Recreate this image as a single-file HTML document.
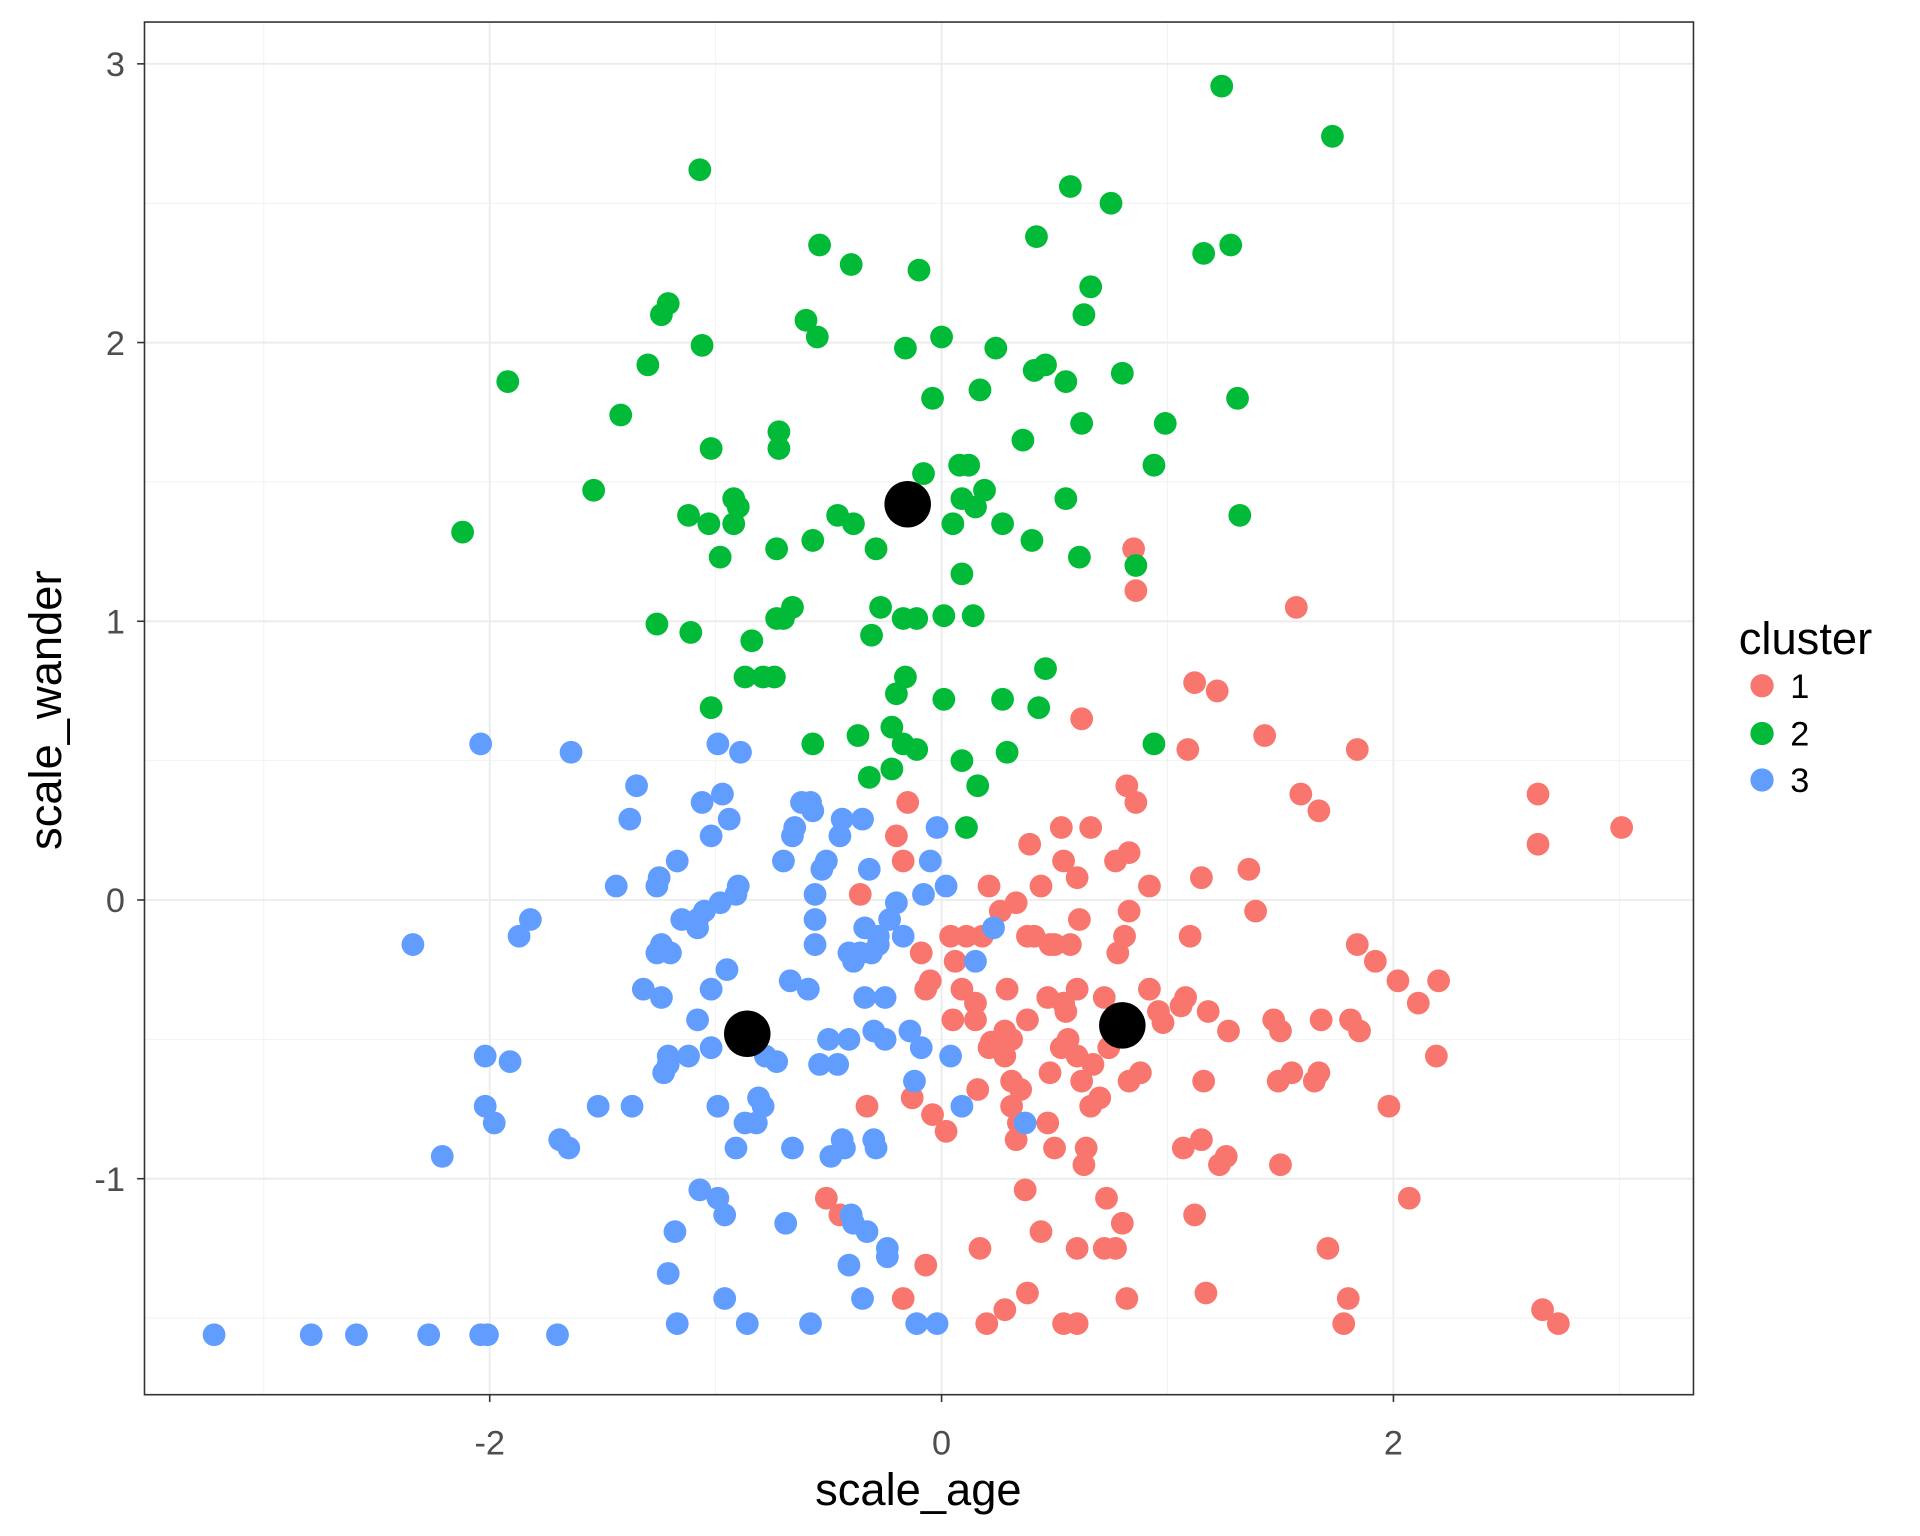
<!DOCTYPE html>
<html><head><meta charset="utf-8"><style>html,body{margin:0;padding:0;background:#fff}svg{display:block}text{font-family:"Liberation Sans",Arial,sans-serif}</style></head>
<body>
<svg id="chart" width="1920" height="1536" viewBox="0 0 1568 1254.4" xmlns="http://www.w3.org/2000/svg">
<rect x="0" y="0" width="1568" height="1254.4" fill="#fff"/>
<g id="grid"></g>
<g id="points"></g>
<rect x="118" y="18" width="1265" height="1121" fill="none" stroke="#333" stroke-width="1.3"/>
<g id="axes"></g>
<text x="750" y="1229" font-size="37" text-anchor="middle" fill="#000">scale_age</text>
<text transform="translate(50,580) rotate(-90)" font-size="37" text-anchor="middle" fill="#000">scale_wander</text>
<g>
<text x="1420" y="534" font-size="37" fill="#000">cluster</text>
<circle cx="1439" cy="560" r="9.5" fill="#F8766D"/>
<text x="1462" y="570" font-size="28" fill="#000">1</text>
<circle cx="1439" cy="599" r="9.5" fill="#00BA38"/>
<text x="1462" y="609" font-size="28" fill="#000">2</text>
<circle cx="1439" cy="637" r="9.5" fill="#619CFF"/>
<text x="1462" y="647" font-size="28" fill="#000">3</text>
</g>
</svg>
<script>
const xTicks=[-2,0,2];
const xMinor=[-3,-1,1,3];
const yTicks=[-1,0,1,2,3];
const yMinor=[-1.5,-0.5,0.5,1.5,2.5];
const xTickLabels=["-2","0","2"];
const yTickLabels=["-1","0","1","2","3"];
const c1x=[0.85,0.86,1.57,1.12,1.22,0.62,1.43,1.09,1.84,0.82,0.86,1.59,1.67,2.64,2.64,3.01,-0.15,0.66,0.53,-0.20,-0.17,0.39,0.83,0.77,0.54,1.36,1.15,0.60,0.44,0.21,0.92,-0.36,0.33,0.26,1.39,0.61,0.83,0.38,0.41,0.48,0.57,0.50,0.04,0.11,0.18,0.81,1.10,0.78,-0.09,0.06,1.84,1.92,2.02,2.20,-0.05,-0.07,0.29,0.09,0.60,0.72,0.92,1.08,0.15,0.47,0.54,1.06,1.18,0.96,0.98,2.11,0.05,0.15,0.38,0.55,1.47,1.50,1.68,1.81,1.85,1.27,0.28,0.22,0.31,0.56,0.76,0.53,0.28,0.21,0.60,0.67,0.74,2.19,0.48,0.62,0.83,0.88,0.31,0.35,1.16,1.49,1.55,1.67,1.65,0.16,0.31,0.66,0.70,-0.33,1.98,-0.13,-0.04,0.02,0.34,0.47,0.33,0.50,0.64,0.63,1.07,1.15,1.26,1.23,1.50,0.37,0.73,2.07,-0.51,-0.45,1.12,0.80,0.44,0.60,0.72,0.77,0.17,1.71,-0.07,0.38,-0.17,0.82,1.17,1.80,0.28,0.20,0.54,0.60,2.66,2.73,1.78];
const c1y=[1.26,1.11,1.05,0.78,0.75,0.65,0.59,0.54,0.54,0.41,0.35,0.38,0.32,0.38,0.20,0.26,0.35,0.26,0.26,0.23,0.14,0.20,0.17,0.14,0.14,0.11,0.08,0.08,0.05,0.05,0.05,0.02,-0.01,-0.04,-0.04,-0.07,-0.04,-0.13,-0.13,-0.16,-0.16,-0.16,-0.13,-0.13,-0.13,-0.13,-0.13,-0.19,-0.19,-0.22,-0.16,-0.22,-0.29,-0.29,-0.29,-0.32,-0.32,-0.32,-0.32,-0.35,-0.32,-0.35,-0.37,-0.35,-0.37,-0.38,-0.40,-0.40,-0.44,-0.37,-0.43,-0.43,-0.43,-0.40,-0.43,-0.47,-0.43,-0.43,-0.47,-0.47,-0.47,-0.51,-0.50,-0.50,-0.47,-0.53,-0.56,-0.53,-0.56,-0.59,-0.53,-0.56,-0.62,-0.65,-0.65,-0.62,-0.65,-0.68,-0.65,-0.65,-0.62,-0.62,-0.65,-0.68,-0.74,-0.74,-0.71,-0.74,-0.74,-0.71,-0.77,-0.83,-0.80,-0.80,-0.86,-0.89,-0.89,-0.95,-0.89,-0.86,-0.92,-0.95,-0.95,-1.04,-1.07,-1.07,-1.07,-1.13,-1.13,-1.16,-1.19,-1.25,-1.25,-1.25,-1.25,-1.25,-1.31,-1.41,-1.43,-1.43,-1.41,-1.43,-1.47,-1.52,-1.52,-1.52,-1.47,-1.52,-1.52];
const c2x=[1.24,1.73,-1.07,0.57,0.75,-0.54,0.42,-0.40,-0.10,1.28,1.16,0.66,0.63,-1.21,-1.24,-0.60,-0.55,-1.06,-0.16,0.00,0.24,-1.30,0.46,0.41,0.80,0.55,-1.92,0.17,-0.04,1.31,-1.42,0.36,0.62,0.99,-0.72,-0.72,-1.02,0.94,-1.54,0.08,0.12,-0.08,0.19,0.09,0.15,0.55,-0.92,-0.90,-1.12,-0.46,-0.39,1.32,-1.03,-0.92,-2.12,0.05,0.27,-0.57,0.40,-0.73,-0.29,-0.98,0.61,0.86,0.09,-0.27,-0.66,-0.73,-0.70,-0.17,-0.11,0.01,0.14,-1.26,-1.11,-0.31,-0.84,0.46,-0.16,-0.87,-0.79,-0.74,-0.20,0.01,0.27,-1.02,0.43,-0.22,-0.37,-0.57,0.94,-0.17,-0.11,0.09,0.29,-0.22,-0.32,0.16,0.11];
const c2y=[2.92,2.74,2.62,2.56,2.50,2.35,2.38,2.28,2.26,2.35,2.32,2.20,2.10,2.14,2.10,2.08,2.02,1.99,1.98,2.02,1.98,1.92,1.92,1.90,1.89,1.86,1.86,1.83,1.80,1.80,1.74,1.65,1.71,1.71,1.68,1.62,1.62,1.56,1.47,1.56,1.56,1.53,1.47,1.44,1.41,1.44,1.44,1.41,1.38,1.38,1.35,1.38,1.35,1.35,1.32,1.35,1.35,1.29,1.29,1.26,1.26,1.23,1.23,1.20,1.17,1.05,1.05,1.01,1.01,1.01,1.01,1.02,1.02,0.99,0.96,0.95,0.93,0.83,0.80,0.80,0.80,0.80,0.74,0.72,0.72,0.69,0.69,0.62,0.59,0.56,0.56,0.56,0.54,0.50,0.53,0.47,0.44,0.41,0.26];
const c3x=[-2.04,-1.64,-0.99,-0.89,-1.35,-1.38,-0.97,-1.06,-0.94,-0.62,-0.58,-0.57,-0.44,-0.35,-0.65,-0.66,-1.02,-0.45,-0.70,-0.51,-0.53,-0.32,-1.17,-0.02,-0.05,-1.44,-1.26,-1.25,-0.90,-0.91,-0.56,0.02,-0.08,-0.98,-1.05,-1.08,-1.15,-1.08,-1.82,-1.87,-0.56,-0.56,-0.20,-0.23,-0.34,-0.28,-0.17,0.23,-2.34,-1.24,-1.20,-1.26,-0.41,-0.36,-0.31,0.15,-0.39,-0.28,-0.95,-1.02,-1.32,-1.24,-0.67,-0.59,-0.34,-0.25,-1.08,-0.86,-1.02,-0.78,-0.73,-2.02,-1.91,-1.21,-1.21,-1.12,-1.23,-0.30,-0.25,-0.14,-0.09,0.04,-0.41,-0.50,-0.54,-0.46,-0.12,0.09,-0.81,-0.79,-0.87,-0.82,-0.99,-1.52,-1.37,-2.02,-1.98,-1.69,-1.65,-2.21,-0.91,-0.66,-0.49,-0.43,-0.44,-0.30,-0.29,0.37,-1.07,-0.99,-0.96,-0.69,-0.40,-0.33,-0.24,-0.24,-1.18,-1.21,-0.41,-0.96,-0.35,-1.17,-0.86,-0.58,-0.11,-0.02,-3.22,-2.79,-2.59,-2.27,-2.04,-2.01,-1.70,-0.39];
const c3y=[0.56,0.53,0.56,0.53,0.41,0.29,0.38,0.35,0.29,0.35,0.35,0.32,0.29,0.29,0.26,0.23,0.23,0.23,0.14,0.14,0.11,0.11,0.14,0.26,0.14,0.05,0.05,0.08,0.05,0.02,0.02,0.05,0.02,-0.01,-0.04,-0.07,-0.07,-0.10,-0.07,-0.13,-0.07,-0.16,-0.01,-0.07,-0.10,-0.13,-0.13,-0.10,-0.16,-0.16,-0.19,-0.19,-0.19,-0.19,-0.19,-0.22,-0.22,-0.16,-0.25,-0.32,-0.32,-0.35,-0.29,-0.32,-0.35,-0.35,-0.43,-0.47,-0.53,-0.56,-0.58,-0.56,-0.58,-0.56,-0.59,-0.56,-0.62,-0.47,-0.50,-0.47,-0.53,-0.56,-0.50,-0.50,-0.59,-0.59,-0.65,-0.74,-0.71,-0.74,-0.80,-0.80,-0.74,-0.74,-0.74,-0.74,-0.80,-0.86,-0.89,-0.92,-0.89,-0.89,-0.92,-0.89,-0.86,-0.86,-0.89,-0.80,-1.04,-1.07,-1.13,-1.16,-1.13,-1.19,-1.25,-1.28,-1.19,-1.34,-1.31,-1.43,-1.43,-1.52,-1.52,-1.52,-1.52,-1.52,-1.56,-1.56,-1.56,-1.56,-1.56,-1.56,-1.56,-1.16];
const centerX=[0.80,-0.15,-0.86];
const centerY=[-0.45,1.42,-0.48];

const NS='http://www.w3.org/2000/svg';
const PL=118,PR=1383,PT=18,PB=1139;
const X0=-3.528,X1=3.328,Y0=-1.775,Y1=3.150;
function sx(v){return PL+(v-X0)/(X1-X0)*(PR-PL);}
function sy(v){return PB-(v-Y0)/(Y1-Y0)*(PB-PT);}
function mk(tag,attrs,parent){const e=document.createElementNS(NS,tag);for(const k in attrs)e.setAttribute(k,attrs[k]);parent.appendChild(e);return e;}
const grid=document.getElementById('grid');
mk('rect',{x:PL,y:PT,width:PR-PL,height:PB-PT,fill:'#fff'},grid);
xMinor.forEach(v=>{const l=mk('line',{x1:sx(v),x2:sx(v),y1:PT,y2:PB,stroke:'#f2f2f2','stroke-width':0.8},grid);

});
yMinor.forEach(v=>{const l=mk('line',{x1:PL,x2:PR,y1:sy(v),y2:sy(v),stroke:'#f2f2f2','stroke-width':0.8},grid);

});
xTicks.forEach(v=>{const l=mk('line',{x1:sx(v),x2:sx(v),y1:PT,y2:PB,stroke:'#ebebeb','stroke-width':1.5},grid);

});
yTicks.forEach(v=>{const l=mk('line',{x1:PL,x2:PR,y1:sy(v),y2:sy(v),stroke:'#ebebeb','stroke-width':1.5},grid);

});
const axes=document.getElementById('axes');
xTicks.forEach((v,i)=>{const t=mk('line',{x1:sx(v),x2:sx(v),y1:PB,y2:PB+6,stroke:'#333','stroke-width':1.3},axes);


const s=mk('text',{x:sx(v),y:PB+49,'font-size':28,'text-anchor':'middle',fill:'#4d4d4d'},axes);s.textContent=xTickLabels[i];

});
yTicks.forEach((v,i)=>{const t=mk('line',{x1:PL-6,x2:PL,y1:sy(v),y2:sy(v),stroke:'#333','stroke-width':1.3},axes);


const s=mk('text',{x:PL-16,y:sy(v)+10,'font-size':28,'text-anchor':'end',fill:'#4d4d4d'},axes);s.textContent=yTickLabels[i];

});
const pts=document.getElementById('points');
function series(xs,ys,col,name){xs.forEach((v,i)=>{const c=mk('circle',{cx:sx(v),cy:sy(ys[i]),r:9.3,fill:col},pts);

});}
series(c1x,c1y,'#F8766D','point-cluster-1');
series(c2x,c2y,'#00BA38','point-cluster-2');
series(c3x,c3y,'#619CFF','point-cluster-3');
centerX.forEach((v,i)=>{const c=mk('circle',{cx:sx(v),cy:sy(centerY[i]),r:19,fill:'#000'},pts);

});
</script>
</body></html>
